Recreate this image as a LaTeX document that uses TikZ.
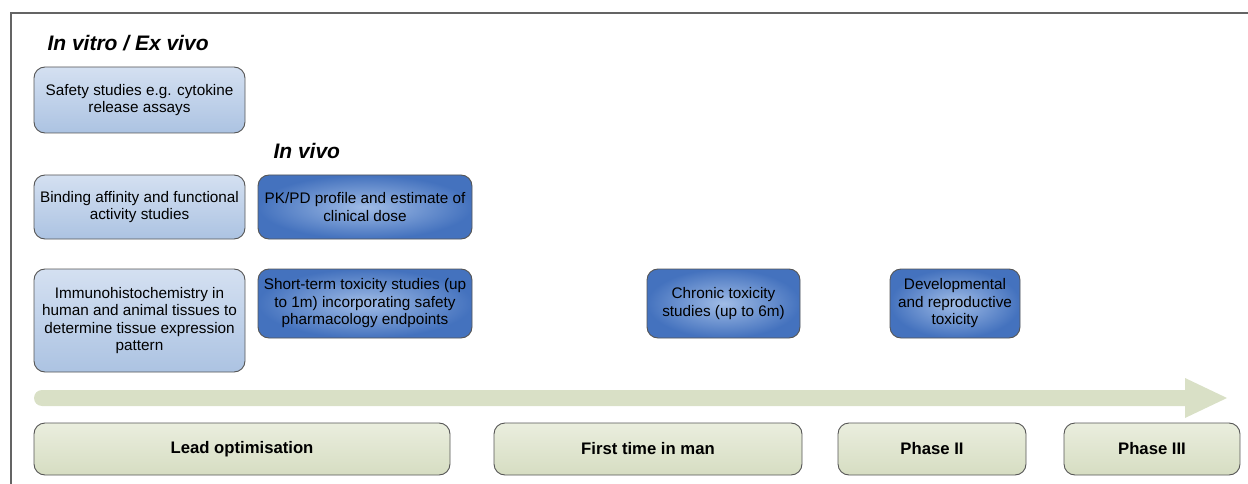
\documentclass[tikz,border=0pt]{standalone}
\usepackage{fontspec}
\setmainfont{Liberation Sans}
\usepackage{xcolor}
\usepackage{tikz}
\definecolor{framegray}{RGB}{100, 100, 100}
\definecolor{edgegray}{RGB}{85, 85, 85}
\definecolor{paletop}{RGB}{212, 224, 241}
\definecolor{palebottom}{RGB}{172, 195, 226}
\definecolor{deepinner}{RGB}{160, 188, 230}
\definecolor{deepouter}{RGB}{68, 114, 190}
\definecolor{phasetop}{RGB}{234, 238, 222}
\definecolor{phasebottom}{RGB}{214, 221, 194}
\definecolor{timeline}{RGB}{217, 224, 198}

\begin{document}
\begin{tikzpicture}[x=1pt, y=-1pt,
    studybox/.style={draw=edgegray, line width=0.9pt, rounded corners=11pt,
        align=center, inner sep=2pt, font=\fontsize{15.3}{17.5}\selectfont},
    palebox/.style={studybox, top color=paletop, bottom color=palebottom},
    deepbox/.style={studybox, inner color=deepinner, outer color=deepouter},
    phasebox/.style={draw=edgegray, line width=0.9pt, rounded corners=11pt,
        top color=phasetop, bottom color=phasebottom, minimum height=52pt,
        font=\fontsize{16.7}{19}\selectfont\bfseries},
    heading/.style={anchor=west, font=\fontsize{21}{24}\selectfont\bfseries\itshape}]
    \useasboundingbox (0,0) rectangle (1248,484);
    % frame
    \draw[framegray, line width=2pt] (11,484) -- (11,13) -- (1248,13);
    % headings
    \node[heading] (vitro) at (44,43) {In vitro / Ex vivo};
    \node[heading] (vivo) at (270,151) {In vivo};
    % in vitro studies
    \node[palebox, minimum width=211pt, minimum height=66pt] (safety) at (139.5,100)
        {Safety studies e.g. cytokine\\release assays};
    \node[palebox, minimum width=211pt, minimum height=64pt] (binding) at (139.5,207)
        {Binding affinity and functional\\activity studies};
    \node[palebox, minimum width=211pt, minimum height=103pt] (ihc) at (139.5,320.5)
        {Immunohistochemistry in\\human and animal tissues to\\determine tissue expression\\pattern};
    % in vivo studies
    \node[deepbox, minimum width=214pt, minimum height=64pt] (pkpd) at (365,207)
        {PK/PD profile and estimate of\\clinical dose};
    \node[deepbox, minimum width=214pt, minimum height=69pt] (shortterm) at (365,303.5)
        {Short-term toxicity studies (up\\to 1m) incorporating safety\\pharmacology endpoints};
    \node[deepbox, minimum width=153pt, minimum height=69pt] (chronic) at (723.5,303.5)
        {Chronic toxicity\\studies (up to 6m)};
    \node[deepbox, minimum width=130pt, minimum height=69pt] (devrep) at (955,303.5)
        {Developmental\\and reproductive\\toxicity};
    % timeline
    \fill[timeline] (42,390) -- (1185,390) -- (1185,378) -- (1227,398) -- (1185,418)
        -- (1185,406) -- (42,406) arc[start angle=270, end angle=90, radius=8pt] -- cycle;
    % phases
    \node[phasebox, minimum width=416pt] (lead) at (242,449) {Lead optimisation};
    \node[phasebox, minimum width=308pt] (fim) at (648,449) {First time in man};
    \node[phasebox, minimum width=188pt] (ph2) at (932,449) {Phase II};
    \node[phasebox, minimum width=176pt] (ph3) at (1152,449) {Phase III};
\end{tikzpicture}
\end{document}
